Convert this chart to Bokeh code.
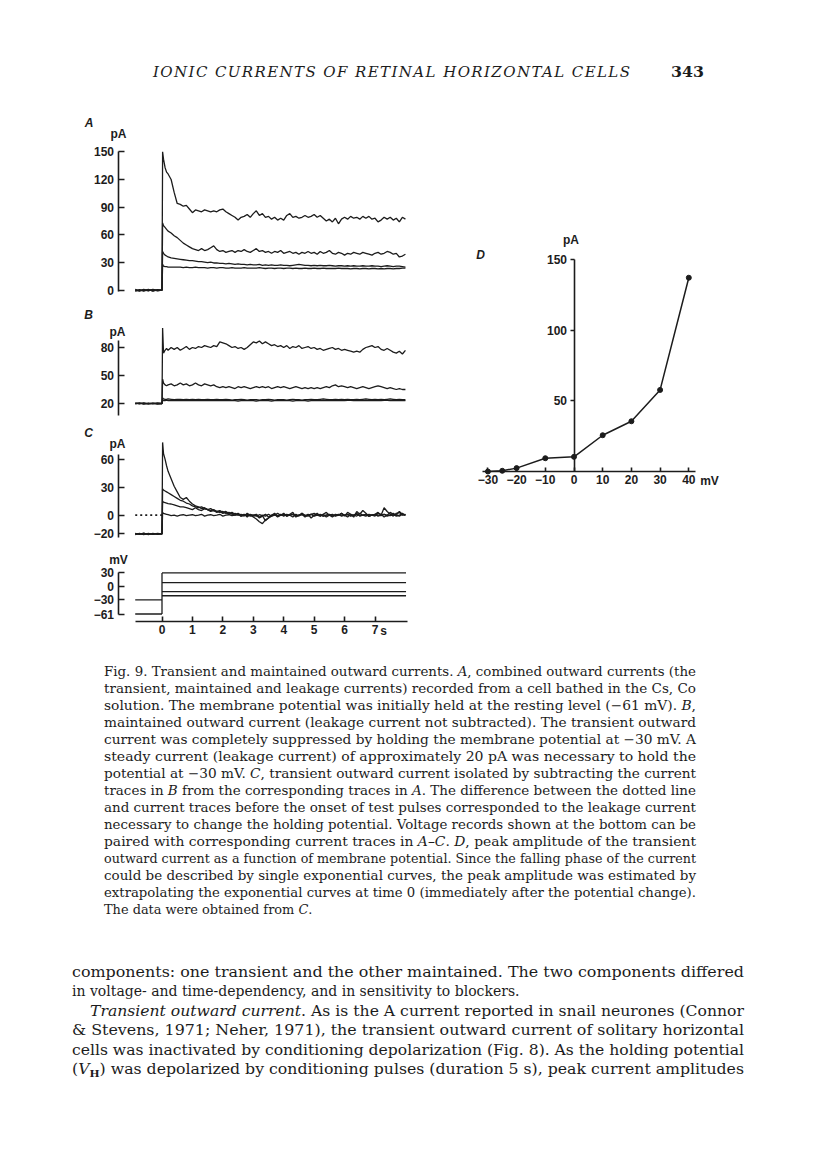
from bokeh.plotting import figure
from bokeh.models import Range1d, LinearAxis, FixedTicker, Label, Div
from bokeh.layouts import column
from bokeh.embed import file_html
from bokeh.resources import INLINE

# ---------------- data ----------------
# time base of the current/voltage records (s)
t_pre = [-0.88, -0.74, -0.6, -0.45, -0.3, -0.15, 0.0]
t_early = [0.02, 0.05, 0.1, 0.15, 0.2, 0.3, 0.4, 0.5, 0.6, 0.7, 0.8, 0.9]
t_late = [1.0, 1.1, 1.2, 1.3, 1.4, 1.5, 1.6, 1.7, 1.8, 1.9,
          2.0, 2.1, 2.2, 2.3, 2.4, 2.5, 2.6, 2.7, 2.8, 2.9,
          3.0, 3.1, 3.2, 3.3, 3.4, 3.5, 3.6, 3.7, 3.8, 3.9,
          4.0, 4.1, 4.2, 4.3, 4.4, 4.5, 4.6, 4.7, 4.8, 4.9,
          5.0, 5.1, 5.2, 5.3, 5.4, 5.5, 5.6, 5.7, 5.8, 5.9,
          6.0, 6.1, 6.2, 6.3, 6.4, 6.5, 6.6, 6.7, 6.8, 6.9,
          7.0, 7.1, 7.2, 7.3, 7.4, 7.5, 7.6, 7.7, 7.8, 7.9,
          8.0]

# A: combined outward currents (pA), holding -61 mV
a_pre = [[0.8, -0.6, 1.0, -0.4, 0.7, -0.8, 0.0],
         [-0.7, 0.6, -0.9, 0.5, -0.6, 0.7, 0.0],
         [0.3, -1.0, 0.4, -0.8, 1.0, -0.3, 0.0],
         [-1.0, 0.2, -0.4, 0.9, -0.9, 0.4, 0.0]]
a1 = [150, 142, 133, 128, 126, 120, 106, 94, 93, 91, 92, 88] + [
    84, 87, 86, 85, 87, 86, 85, 86, 85, 87,
    88, 85, 83, 81, 79, 76, 79, 80, 82, 79,
    83, 86, 81, 83, 79, 80, 77, 79, 76, 78,
    76, 81, 83, 79, 80, 78, 79, 81, 79, 80,
    82, 79, 81, 78, 75, 77, 74, 78, 72, 77,
    79, 77, 80, 78, 79, 77, 80, 78, 80, 77,
    78, 74, 76, 79, 77, 79, 76, 78, 74, 79,
    77]
a2 = [73, 70, 68, 66, 64, 62, 59, 57, 54, 51, 49, 47] + [
    45, 44, 43, 45, 43, 44, 46, 48, 44, 42,
    43, 41, 42, 43, 41, 43, 42, 44, 42, 41,
    43, 45, 42, 43, 41, 42, 40, 42, 41, 43,
    40, 41, 42, 40, 41, 39, 41, 40, 42, 40,
    41, 39, 42, 40, 41, 43, 40, 39, 41, 40,
    38, 40, 39, 41, 40, 39, 41, 40, 39, 38,
    40, 41, 39, 40, 42, 41, 39, 40, 36, 37,
    39]
a3 = [42, 40, 38, 37, 36, 35, 34.5, 34, 33.5, 33, 32.5, 32] + [
    32, 31.5, 31, 31, 30.5, 30, 30.5, 29.5, 29.5, 29,
    29, 28.5, 29, 28.5, 28, 28.5, 28, 28, 27.5, 28,
    27.5, 27.5, 28, 27, 27.5, 27, 27.5, 27, 27, 27.5,
    27, 27, 26.5, 27, 27.5, 28, 27.5, 27, 27, 26.5,
    27, 26.5, 27, 26.5, 26.5, 27, 26.5, 26, 26.5, 26.5,
    26, 26.5, 26, 26.5, 26, 26, 26.5, 26, 26, 26.5,
    26, 26, 25.5, 26, 26.5, 26, 25.5, 26, 26, 25.5,
    25]
a4 = [28, 26, 25.5, 25.5, 25, 25, 25, 25, 25, 24.5, 25, 24.5] + [
    24.5, 25, 24.5, 24.5, 24.5, 24, 24.5, 24.5, 24, 24.5,
    24.5, 24, 24, 24.5, 24, 24, 24, 24.5, 24, 24,
    24, 24, 24.5, 24, 23.5, 24, 24, 23.5, 24, 24,
    23.5, 24, 24, 23.5, 24, 23.5, 23.5, 24, 23.5, 23.5,
    24, 23.5, 23.5, 24, 23.5, 23.5, 23.5, 23.5, 24, 23.5,
    23.5, 23.5, 23, 23.5, 23.5, 23, 23.5, 23.5, 23, 23.5,
    23.5, 23, 23.5, 23, 23.5, 23.5, 23, 23.5, 23.5, 24,
    24]

# B: maintained outward current (pA), holding -30 mV
b_pre = [[20.6, 19.5, 20.7, 19.6, 20.5, 19.4, 20.0],
         [19.5, 20.6, 19.4, 20.5, 19.6, 20.6, 20.0],
         [20.2, 19.8, 20.4, 19.7, 20.3, 19.8, 20.0],
         [19.8, 20.3, 19.7, 20.2, 19.8, 20.2, 20.0]]
b1 = [101, 74, 77, 79, 77, 80, 78, 80, 77, 79, 81, 78] + [
    80, 79, 81, 80, 82, 81, 80, 82, 81, 86,
    85, 84, 82, 80, 81, 79, 80, 78, 80, 83,
    86, 85, 87, 84, 86, 84, 82, 83, 81, 82,
    80, 82, 79, 81, 80, 82, 79, 80, 81, 79,
    80, 78, 79, 77, 78, 79, 80, 78, 79, 77,
    78, 77, 76, 75, 76, 75, 78, 80, 81, 82,
    80, 81, 78, 77, 79, 77, 75, 74, 76, 73,
    77]
b2 = [46, 42, 40, 39, 40, 41, 39, 40, 42, 40, 41, 39] + [
    40, 42, 40, 39, 41, 40, 39, 40, 38, 37,
    38, 37, 38, 37, 36, 38, 37, 38, 37, 36,
    37, 38, 37, 38, 37, 38, 36, 37, 38, 37,
    38, 37, 36, 37, 38, 37, 36, 37, 36, 37,
    36, 37, 36, 37, 38, 37, 39, 40, 38, 39,
    38, 37, 38, 37, 36, 37, 38, 37, 36, 37,
    38, 39, 38, 37, 36, 37, 36, 35, 36, 35,
    35]
b3 = [26, 25, 24.5, 24.5, 25, 24.5, 24, 24.5, 24.5, 24, 24.5, 24] + [
    24.5, 24, 24.5, 24, 24, 24.5, 24, 24, 24.5, 24,
    24, 24.5, 24, 23.5, 24, 24, 24.5, 24, 23.5, 24,
    24, 24, 23.5, 24, 24, 24.5, 24, 23.5, 24, 24,
    24, 23.5, 24, 24.5, 24, 24, 23.5, 24, 24, 24.5,
    24, 24, 24.5, 25, 24.5, 24, 24, 24.5, 24, 24.5,
    24, 24.5, 24, 24, 24.5, 24, 24.5, 25, 24.5, 24,
    24.5, 24, 24.5, 24, 24.5, 25, 24.5, 24, 24.5, 24,
    24]
b4 = [24, 23, 23, 23.5, 23, 23, 23.5, 23, 23, 23.5, 23, 23] + [
    23, 23.5, 23, 23, 23, 23.5, 23, 23, 23, 23.5,
    23, 23, 23.5, 23, 23, 22.5, 23, 23, 23, 23,
    23, 22.5, 23, 23, 23, 23, 22.5, 23, 23, 23,
    23, 23, 23, 22.5, 23, 23, 23, 23, 22.5, 23,
    23, 23, 23, 23.5, 23, 23, 23, 23, 23.5, 23,
    23, 23.5, 23.5, 23, 23, 23.5, 23, 23.5, 23, 23,
    23.5, 23, 23, 23.5, 23.5, 23, 23.5, 23, 23.5, 23,
    23]

# C: transient outward current (A - B), pA
c_pre = [[-20.7, -19.4, -20.8, -19.5, -20.6, -19.4, -20.0],
         [-19.4, -20.6, -19.3, -20.7, -19.5, -20.6, -20.0],
         [-20.3, -19.8, -20.5, -19.7, -20.4, -19.8, -20.0],
         [-19.8, -20.3, -19.6, -20.2, -19.7, -20.3, -20.0]]
c_zero = 0
c1 = [78, 66, 60, 53, 47, 39, 31, 25, 19, 17, 19, 15] + [
    12, 10, 9, 7, 8, 6, 5, 6, 4, 3,
    4, 2, 3, 1, 2, 0, 1, -1, 2, 0,
    -2, -4, -7, -9, -5, -3, -1, 1, -2, 0,
    2, -1, 1, 3, -2, 0, 2, -1, 1, -3,
    0, 2, -1, 1, 3, 0, -2, 1, 0, 2,
    -1, 3, 1, -2, 4, 1, 5, 2, -1, 0,
    1, 3, 0, 8, 4, 1, -1, 2, 3, 0,
    1]
c2 = [28, 27, 26, 25, 24, 22, 20, 18, 16, 15, 13, 12] + [
    10, 9, 8, 9, 7, 6, 7, 5, 4, 5,
    3, 4, 2, 3, 1, 2, 0, 1, -2, 1,
    -1, 0, -3, -1, 1, -2, 0, 2, -1, 1,
    -1, 1, 0, -2, 1, -1, 2, 0, -1, 1,
    2, 0, -1, 1, -2, 0, 1, -1, 0, 2,
    0, -2, 1, 0, -1, 2, 0, -1, 1, 0,
    -1, 2, 1, -2, 0, 3, 1, -1, 0, 2,
    0]
c3 = [15, 14, 13.5, 13, 12.5, 12, 11, 10, 9, 9, 8, 7] + [
    6, 8, 6, 5, 7, 6, 4, 5, 3, 4,
    2, 3, 1, 2, 0, 1, -1, 0, 1, -1,
    0, 1, -2, 0, -1, 1, -1, 0, 2, 0,
    1, -1, 0, 1, -1, 0, 1, -2, 0, 1,
    -1, 0, 1, -1, 0, 1, -1, 0, 1, -1,
    0, 1, -1, 0, 2, -1, 0, 1, -1, 0,
    1, -1, 0, 1, -1, 0, 2, 0, -1, 1,
    0]
c4 = [3, 2, 1.5, 1, 0.5, -0.5, 0, -1, 0, 0.5, -0.5, 0] + [
    0.5, -0.5, 0, 1, -1, 0, 0.5, -0.5, 0, 1,
    -1, 0, 0.5, -0.5, 0, 1, -1, 0, -0.5, 0.5,
    0, -1, 0.5, -0.5, -6, -3, 0, 0.5, -1, 0,
    0.5, -0.5, 0, 1, -1, 0, 0.5, -0.5, 0, 1,
    -0.5, 0, 0.5, -1, 0, 0.5, 0, -0.5, 0.5, 0,
    0, 0.5, -0.5, 0, 1, -0.5, 0, 0.5, -1, 0,
    0.5, 0, -0.5, 1, 0, -0.5, 0.5, 0, 4, 1,
    0]

# voltage records (mV)
t_start, t_on, t_end = -0.88, 0.0, 8.02
v_hold = [-61, -30]
v_test = [29, 8, -12, -21]

# D: peak transient current vs membrane potential
d_mv = [-30, -25, -20, -10, 0, 10, 20, 30, 40]
d_pa = [0, 0.5, 2.4, 9.4, 10.4, 25.7, 35.6, 57.8, 137.3]

# tick labels
a_ticks = [0, 30, 60, 90, 120, 150]
b_ticks = [20, 50, 80]
c_ticks = [-20, 0, 30, 60]
v_ticks = [-61, -30, 0, 30]
t_ticks = [0, 1, 2, 3, 4, 5, 6, 7]
dx_ticks = [-30, -20, -10, 0, 10, 20, 30, 40]
dy_ticks = [50, 100, 150]

# ---------------- layout (page pixels) ----------------
FX0, FX1 = 8, 808
FY0, FY1 = 100, 650
INK = "#1c1c1c"
SANS = "Liberation Sans"


def rng(v1, p1, v2, p2, lo, hi):
    k = (v2 - v1) / (p2 - p1)
    return Range1d(start=v1 + (lo - p1) * k, end=v1 + (hi - p1) * k)


def inv(v1, p1, v2, p2, pix):
    return v1 + (pix - p1) * (v2 - v1) / (p2 - p1)


TX = (0, 169.5, 7, 382.5)
AY = (0, 287.7, 150, 149.3)
BY = (20, 401.0, 80, 345.0)
CY = (0, 512.7, 60, 456.7)
VY = (-61, 611.5, 30, 570.0)
DX = (0, 581.5, 40, 696.3)
DYc = (0, 469.0, 150, 257.3)

p = figure(width=FX1 - FX0, height=FY1 - FY0,
           x_range=rng(*TX, FX0, FX1), y_range=rng(*AY, FY1, FY0),
           output_backend="svg", toolbar_location=None,
           x_axis_location=None, y_axis_location=None,
           min_border=0, min_border_left=0, min_border_right=0,
           min_border_top=0, min_border_bottom=0)
p.outline_line_color = None
p.background_fill_color = "white"
p.border_fill_color = "white"
p.grid.visible = False
p.xgrid.grid_line_color = None
p.ygrid.grid_line_color = None
p.extra_y_ranges = {"B": rng(*BY, FY1, FY0), "C": rng(*CY, FY1, FY0),
                    "V": rng(*VY, FY1, FY0), "Dy": rng(*DYc, FY1, FY0)}
p.extra_x_ranges = {"Dx": rng(*DX, FX0, FX1)}

t_rec = t_pre + t_early + t_late


def trace(pre, vals, yname, lw=1.3):
    ys = pre + vals
    n = min(len(t_rec), len(ys))
    kw = {} if yname == "default" else {"y_range_name": yname}
    p.line(t_rec[:n], ys[:n], line_color=INK, line_width=lw, **kw)


for pre, tr in zip(a_pre, (a1, a2, a3, a4)):
    trace(pre, tr, "default")
for pre, tr in zip(b_pre, (b1, b2, b3, b4)):
    trace(pre, tr, "B")
for pre, tr in zip(c_pre, (c1, c2, c3, c4)):
    trace(pre, tr, "C")
p.line([t_start, t_on], [c_zero, c_zero], y_range_name="C",
       line_color=INK, line_width=1.8, line_dash="2 3")

# voltage records
for vh in v_hold:
    p.line([t_start, t_on], [vh, vh], y_range_name="V", line_color=INK, line_width=1.3)
p.line([t_on, t_on], [min(v_hold), max(v_test)], y_range_name="V", line_color=INK, line_width=1.3)
for vt in v_test:
    p.line([t_on, t_end], [vt, vt], y_range_name="V", line_color=INK, line_width=1.3)

# D
p.line(d_mv, d_pa, x_range_name="Dx", y_range_name="Dy", line_color=INK, line_width=1.5)
p.scatter(d_mv, d_pa, x_range_name="Dx", y_range_name="Dy", size=5,
          fill_color=INK, line_color=INK)


def style(ax, tin, tout, standoff=4):
    ax.axis_line_color = INK
    ax.axis_line_width = 1.6
    ax.major_tick_line_color = INK
    ax.major_tick_line_width = 1.6
    ax.major_tick_in = tin
    ax.major_tick_out = tout
    ax.minor_tick_line_color = None
    ax.major_label_text_font = SANS
    ax.major_label_text_font_size = "12px"
    ax.major_label_text_font_style = "bold"
    ax.major_label_text_color = INK
    ax.major_label_standoff = standoff


def minus(ticks):
    return {v: ("\u2212" + str(abs(v)) if v < 0 else str(v)) for v in ticks}


yax_t = inv(*TX, 125.5)
for name, ticks, lo, hi in (("default", a_ticks, -1.0, 150),
                            ("B", b_ticks, 6.8, 87.2),
                            ("C", c_ticks, -23.9, 65.4),
                            ("V", v_ticks, -61.4, 30.0)):
    ax = LinearAxis(fixed_location=yax_t, bounds=(lo, hi),
                    ticker=FixedTicker(ticks=ticks),
                    major_label_overrides=minus(ticks))
    if name != "default":
        ax.y_range_name = name
    style(ax, 6, 0, 4)
    p.add_layout(ax, "left")

tax = LinearAxis(y_range_name="V", fixed_location=inv(*VY, 619.0),
                 bounds=(inv(*TX, 143.3), inv(*TX, 415.0)),
                 ticker=FixedTicker(ticks=t_ticks))
style(tax, 5, 0, 3)
p.add_layout(tax, "below")

dxax = LinearAxis(x_range_name="Dx", y_range_name="Dy", fixed_location=0,
                  bounds=(inv(*DX, 490.0), inv(*DX, 703.3)),
                  ticker=FixedTicker(ticks=dx_ticks),
                  major_label_overrides=minus(dx_ticks))
style(dxax, 4, 0, 3)
p.add_layout(dxax, "below")

dyax = LinearAxis(x_range_name="Dx", y_range_name="Dy", fixed_location=0,
                  bounds=(0, 150), ticker=FixedTicker(ticks=dy_ticks))
style(dyax, 0, 4, 3)
p.add_layout(dyax, "left")


def label(text, px, py, xr, yr, xname="default", yname="default",
          style_="bold", size="12px", align="center"):
    lab = Label(x=inv(*xr, px), y=inv(*yr, py), text=text,
                text_font=SANS, text_font_size=size, text_font_style=style_,
                text_color=INK, text_align=align, text_baseline="middle")
    if xname != "default":
        lab.x_range_name = xname
    if yname != "default":
        lab.y_range_name = yname
    p.add_layout(lab)


label("A", 96.5, 120, TX, AY, style_="bold italic")
label("pA", 126, 131, TX, AY)
label("B", 96, 312, TX, BY, yname="B", style_="bold italic")
label("pA", 125, 329, TX, BY, yname="B")
label("C", 96, 430, TX, CY, yname="C", style_="bold italic")
label("pA", 125, 441, TX, CY, yname="C")
label("mV", 126, 557, TX, VY, yname="V")
label("s", 391, 628, TX, VY, yname="V")
label("D", 488, 252, DX, DYc, xname="Dx", yname="Dy", style_="bold italic")
label("pA", 578.5, 237, DX, DYc, xname="Dx", yname="Dy")
label("mV", 717, 478.5, DX, DYc, xname="Dx", yname="Dy")

# ---------------- text blocks (inline SVG text, fitted to the column) ----------------
SERIF = "'DejaVu Serif', serif"


def svg_lines(height, lines, x0, width, base0, step, size, left_lines=(), indents=None,
              adjust="spacingAndGlyphs"):
    out = ['<svg xmlns="http://www.w3.org/2000/svg" width="800" height="%d" '
           'style="display:block">' % height]
    for i, ln in enumerate(lines):
        ind = (indents or {}).get(i, 0)
        fit = '' if i in left_lines else ' textLength="%.1f" lengthAdjust="%s"' % (width - ind, adjust)
        out.append('<text x="%.1f" y="%.1f" style="font-family:%s;font-size:%.1fpx;'
                   'font-style:normal;font-weight:normal;fill:#1c1c1c;"%s>%s</text>'
                   % (x0 + ind, base0 + i * step, SERIF, size, fit, ln))
    out.append('</svg>')
    return ''.join(out)


def it(s):
    return '<tspan style="font-style:italic;">%s</tspan>' % s


header_html = (
    '<svg xmlns="http://www.w3.org/2000/svg" width="800" height="92" style="display:block">'
    '<text x="148" y="72" style="font-family:%s;font-style:italic;font-size:15px;fill:#1c1c1c;" '
    'textLength="477" lengthAdjust="spacing">IONIC CURRENTS OF RETINAL HORIZONTAL CELLS</text>'
    '<text x="666" y="72" style="font-family:%s;font-weight:bold;font-size:14.5px;fill:#1c1c1c;" '
    'textLength="33" lengthAdjust="spacingAndGlyphs">343</text></svg>' % (SERIF, SERIF))
header = Div(text=header_html, width=800, height=92)

cap_lines = [
    "Fig. 9. Transient and maintained outward currents. " + it("A") + ", combined outward currents (the",
    "transient, maintained and leakage currents) recorded from a cell bathed in the Cs, Co",
    "solution. The membrane potential was initially held at the resting level (\u221261 mV). " + it("B") + ",",
    "maintained outward current (leakage current not subtracted). The transient outward",
    "current was completely suppressed by holding the membrane potential at \u221230 mV. A",
    "steady current (leakage current) of approximately 20 pA was necessary to hold the",
    "potential at \u221230 mV. " + it("C") + ", transient outward current isolated by subtracting the current",
    "traces in " + it("B") + " from the corresponding traces in " + it("A") + ". The difference between the dotted line",
    "and current traces before the onset of test pulses corresponded to the leakage current",
    "necessary to change the holding potential. Voltage records shown at the bottom can be",
    "paired with corresponding current traces in " + it("A\u2013C") + ". " + it("D") + ", peak amplitude of the transient",
    "outward current as a function of membrane potential. Since the falling phase of the current",
    "could be described by single exponential curves, the peak amplitude was estimated by",
    "extrapolating the exponential curves at time 0 (immediately after the potential change).",
    "The data were obtained from " + it("C") + ".",
]
caption = Div(text=svg_lines(275, cap_lines, 99, 592, 18.7, 17.0, 12.9, left_lines={14}),
              width=800, height=275)

body_lines = [
    "components: one transient and the other maintained. The two components differed",
    "in voltage- and time-dependency, and in sensitivity to blockers.",
    it("Transient outward current") + ". As is the A current reported in snail neurones (Connor",
    "&amp; Stevens, 1971; Neher, 1971), the transient outward current of solitary horizontal",
    "cells was inactivated by conditioning depolarization (Fig. 8). As the holding potential",
    "(" + it("V") + '<tspan dy="3" style="font-size:9.5px;font-weight:bold;">H</tspan>'
    '<tspan dy="-3">) was depolarized by conditioning pulses (duration 5 s), peak current amplitudes</tspan>',
]
body = Div(text=svg_lines(227, body_lines, 67, 672, 34.6, 19.5, 14.0, left_lines={1},
                          indents={2: 18}),
           width=800, height=227)

page = column(header, p, caption, body, spacing=0)
open("out.html", "w").write(file_html(page, INLINE))
